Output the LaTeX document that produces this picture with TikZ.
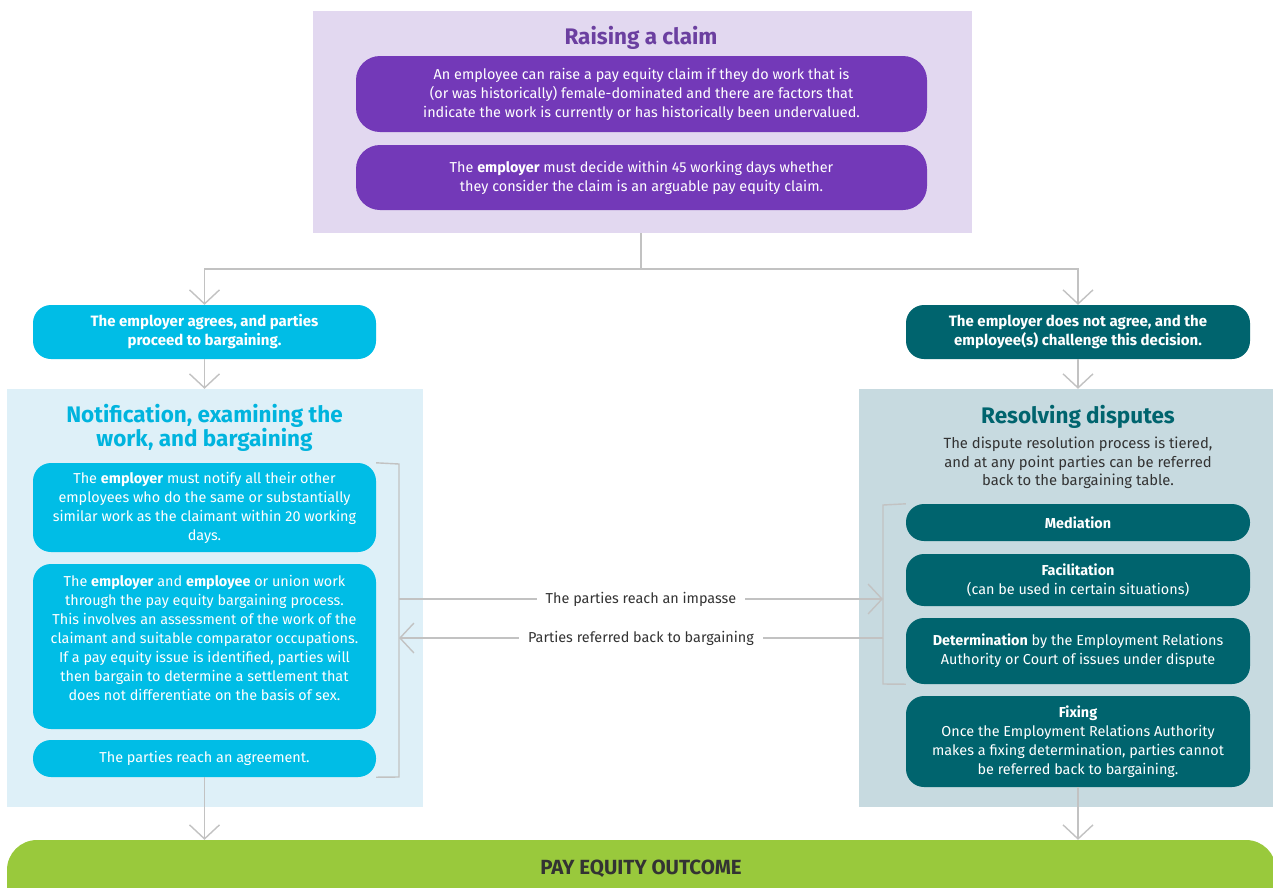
\documentclass[tikz,border=0pt]{standalone}
\usepackage{fontspec}
\setmainfont{Fira Sans}
\usetikzlibrary{arrows.meta}
\definecolor{lav}{HTML}{E2D8F0}
\definecolor{purp}{HTML}{7339B8}
\definecolor{purptitle}{HTML}{6B3FA0}
\definecolor{cyanbox}{HTML}{00BDE6}
\definecolor{cyanpanel}{HTML}{DEF0F8}
\definecolor{cyantitle}{HTML}{00B4DE}
\definecolor{tealbox}{HTML}{00646E}
\definecolor{tealpanel}{HTML}{C7DAE0}
\definecolor{outgreen}{HTML}{99C93C}
\definecolor{conn}{HTML}{C2C2C2}
\definecolor{txt}{HTML}{333333}
\tikzset{
  panel/.style={inner sep=0pt, draw=none},
  boxbase/.style={rounded corners=18pt, inner sep=0pt, align=center, text=white,
    font=\fontsize{14.4}{19}\selectfont},
  pbox/.style={boxbase, fill=purp, minimum width=571pt, rounded corners=24pt},
  cbox/.style={boxbase, fill=cyanbox, minimum width=343pt},
  tbox/.style={boxbase, fill=tealbox, minimum width=344pt},
  btext/.style={align=center, text=white, inner sep=0pt, font=\fontsize{14.4}{19}\selectfont},
  ptitle/.style={align=center, inner sep=0pt, font=\fontsize{22.5}{23}\selectfont\bfseries},
  conn/.style={draw=conn, line width=1.4pt},
  arr/.style={conn, -{Straight Barb[length=14pt,width=30pt,line width=1.4pt]}},
  lbl/.style={fill=white, text=txt, inner xsep=9pt, inner ysep=2pt, font=\fontsize{14.4}{16}\selectfont},
}
\begin{document}
\begin{tikzpicture}[x=1pt,y=-1pt]
\useasboundingbox (0,0) rectangle (1273,887);
\clip (0,0) rectangle (1273,887);
\fill[white] (0,0) rectangle (1273,887);

% top panel
\node[panel, fill=lav, minimum width=659pt, minimum height=222pt] (raise) at (642.5,122) {};
\node[ptitle, text=purptitle] (raiset) at (641,37.5) {Raising a claim};
\node[pbox, minimum height=76pt] (c1) at (641.5,94) {An employee can raise a pay equity claim if they do work that is\\(or was historically) female-dominated and there are factors that\\indicate the work is currently or has historically been undervalued.};
\node[pbox, minimum height=65pt] (c2) at (641.5,177.5) {The \textbf{employer} must decide within 45 working days whether\\they consider the claim is an arguable pay equity claim.};

% decision pills
\node[cbox, minimum height=54pt, font=\fontsize{15}{19}\selectfont\bfseries] (agree) at (204.5,332) {The employer agrees, and parties\\proceed to bargaining.};
\node[tbox, minimum height=54pt, font=\fontsize{15}{19}\selectfont\bfseries] (disagree) at (1078,332) {The employer does not agree, and the\\employee(s) challenge this decision.};

\coordinate (split) at (641,269);
\draw[conn] (raise.south -| split) -- (split);
\draw[arr] (split) -| (agree.north);
\draw[arr] (split) -| (disagree.north);

% left panel
\node[panel, fill=cyanpanel, minimum width=416pt, minimum height=418pt] (lpanel) at (215,598) {};
\node[ptitle, text=cyantitle] (lpt) at (204.5,428) {Notification, examining the\\work, and bargaining};
\node[cbox, minimum height=89pt] (L1) at (204.5,507.5) {The \textbf{employer} must notify all their other\\employees who do the same or substantially\\similar work as the claimant within 20 working\\days.};
\node[cbox, minimum height=165pt] (L2) at (204.5,646.5) {};
\node[btext] (L2t) at (204.5,637.5) {The \textbf{employer} and \textbf{employee} or union work\\through the pay equity bargaining process.\\This involves an assessment of the work of the\\claimant and suitable comparator occupations.\\If a pay equity issue is identified, parties will\\then bargain to determine a settlement that\\does not differentiate on the basis of sex.};
\node[cbox, minimum height=37pt] (L3) at (204.5,758.5) {The parties reach an agreement.};
\draw[arr] (agree.south) -- (agree.south |- lpanel.north);

% right panel
\node[panel, fill=tealpanel, minimum width=414pt, minimum height=418pt] (rpanel) at (1066,598) {};
\node[ptitle, text=tealbox] (rpt) at (1078,416.5) {Resolving disputes};
\node[align=center, text=txt, inner sep=0pt, font=\fontsize{14.8}{18.5}\selectfont] (rsub) at (1078,463) {The dispute resolution process is tiered,\\and at any point parties can be referred\\back to the bargaining table.};
\node[tbox, minimum height=37pt] (med) at (1078,522.5) {\textbf{Mediation}};
\node[tbox, minimum height=52pt] (fac) at (1078,580) {\textbf{Facilitation}\\(can be used in certain situations)};
\node[tbox, minimum height=66pt] (det) at (1078,651) {\textbf{Determination} by the Employment Relations\\Authority or Court of issues under dispute};
\node[tbox, minimum height=91pt] (fix) at (1078,741.5) {\textbf{Fixing}\\Once the Employment Relations Authority\\makes a fixing determination, parties cannot\\be referred back to bargaining.};
\draw[arr] (disagree.south) -- (disagree.south |- rpanel.north);

% brackets
\coordinate (lbT) at (399,464);
\coordinate (lbB) at (399,777);
\draw[conn] (L1.north east) -- (lbT) -- (lbB) -- (L3.south east);
\coordinate (rbT) at (883,505);
\coordinate (rbB) at (883,684);
\draw[conn] (med.north west) -- (rbT) -- (rbB) -- (det.south west);

% cross arrows
\coordinate (impL) at (399,599);
\coordinate (impR) at (883,599);
\coordinate (refR) at (883,638);
\coordinate (refL) at (399,638);
\draw[arr] (impL) -- (impR);
\node[lbl] (implbl) at (641,599) {The parties reach an impasse};
\draw[arr] (refR) -- (refL);
\node[lbl] (reflbl) at (641,638) {Parties referred back to bargaining};

% outcome
\node[panel, fill=outgreen, rounded corners=30pt, minimum width=1269pt, minimum height=100pt] (out) at (641.5,890) {};
\node[text=txt, inner sep=0pt, font=\fontsize{20.5}{22}\selectfont\bfseries] (outt) at (641,868.5) {PAY EQUITY OUTCOME};
\draw[arr] (L3.south) -- (L3.south |- out.north);
\draw[arr] (fix.south) -- (fix.south |- out.north);
\end{tikzpicture}
\end{document}
